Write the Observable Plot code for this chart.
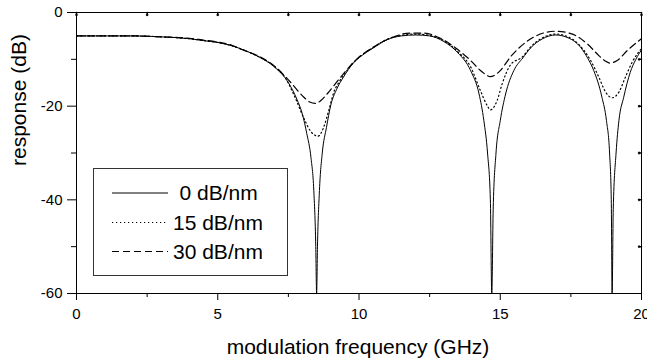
<!DOCTYPE html>
<html><head><meta charset="utf-8">
<script src="https://cdn.jsdelivr.net/npm/d3@7"></script>
<script src="https://cdn.jsdelivr.net/npm/@observablehq/plot@0.6"></script>
<style>
body{margin:0;background:#fff;}
#wrap{width:647px;height:361px;}
</style></head><body><div id="wrap"></div>
<script>
// Tick values
const xMajor = [0, 5, 10, 15, 20];
const xMinor = [2.5, 7.5, 12.5, 17.5];
const yMajor = [0, -20, -40, -60];
const yMinor = [-10, -30, -50];
const seriesNames = ["0 dB/nm", "15 dB/nm", "30 dB/nm"];

// 0 dB/nm
const solidF  = [0,1,2,3,4,4.5,5,5.5,6,6.5,7,7.5,7.8,8.0,8.15,8.3,8.4,8.47,8.5,8.53,8.6,8.7,8.85,9.0,9.2,9.45,9.8,10.1,10.5,11.0,11.5,12.0,12.5,13.0,13.5,13.95,14.25,14.42,14.55,14.65,14.7,14.75,14.85,15.0,15.19,15.48,15.8,16.07,16.5,16.96,17.4,17.84,18.1,18.31,18.6,18.76,18.87,18.93,18.96,19.0,19.1,19.2,19.37,19.6,19.8,20];
const solidDB = [-5,-5,-5,-5.2,-5.6,-6.0,-6.4,-7.1,-8.2,-9.6,-11.6,-15.0,-18.5,-21.8,-25.8,-31,-38,-50,-60,-50,-38,-30,-24.5,-19.8,-16.5,-13.8,-10.8,-9.2,-7.6,-5.8,-5.0,-4.8,-5.0,-6.2,-8.6,-12.4,-17.4,-23.1,-30,-40,-60,-42,-30,-23.1,-17.4,-12.4,-9.7,-7.6,-5.6,-4.8,-5.4,-7.4,-9.8,-12.4,-18.1,-23.1,-30,-40,-60,-42,-30,-23.1,-18.1,-12.8,-10,-8.0];

// 15 dB/nm
const dotF  = [0,1,2,3,4,4.5,5,5.5,6,6.5,7,7.4,7.69,8.05,8.28,8.55,8.75,8.93,9.11,9.3,9.5,9.8,10.1,10.5,11.0,11.5,12.0,12.5,13.0,13.5,13.95,14.3,14.54,14.65,14.89,15.07,15.36,15.8,16.07,16.5,16.96,17.4,17.84,18.2,18.49,18.73,18.96,19.2,19.43,19.67,20];
const dotDB = [-5,-5,-5,-5.2,-5.6,-6.0,-6.4,-7.1,-8.2,-9.6,-11.5,-14.0,-17.5,-22.6,-25.3,-26.4,-24.5,-20.9,-17.0,-14.8,-13.0,-10.7,-9.1,-7.5,-5.7,-4.9,-4.6,-4.9,-6.0,-8.4,-11.6,-16.7,-19.9,-20.8,-18.8,-15.2,-11.2,-9.4,-7.4,-5.4,-4.6,-5.2,-7.2,-10.25,-13.8,-17.0,-18.2,-17.0,-13.8,-10.6,-7.7];

// 30 dB/nm
const dashF  = [0,1,2,3,4,4.5,5,5.5,5.8,6.4,6.98,7.58,8.05,8.25,8.46,8.65,8.87,9.35,9.93,10.5,11.1,11.8,12.3,12.88,13.47,13.95,14.3,14.5,14.65,14.8,15.0,15.36,15.83,16.3,16.96,17.5,18.08,18.49,18.7,18.88,19.14,19.5,20];
const dashDB = [-5,-5,-5,-5.2,-5.5,-5.9,-6.3,-7.0,-7.8,-9.2,-11.3,-14.9,-18.1,-19.1,-19.4,-18.8,-17.4,-13.8,-9.9,-7.4,-5.5,-4.4,-4.4,-5.5,-7.8,-10.25,-12.4,-13.3,-13.7,-13.4,-12.4,-9.5,-6.7,-4.9,-4.0,-4.5,-6.7,-9.2,-10.3,-10.8,-10.25,-8.1,-5.6];

const toRows = (F, D) => F.map((f, i) => ({f, db: D[i]}));
const solid = toRows(solidF, solidDB);
const dotted = toRows(dotF, dotDB);
const dashed = toRows(dashF, dashDB);

const font = '"Liberation Sans", Arial, Helvetica, sans-serif';
const dashes = [null, "1.2,2.8", "7,4"];

const chart = Plot.plot({
  width: 647, height: 361,
  marginLeft: 76, marginRight: 6, marginTop: 12, marginBottom: 68,
  style: {fontFamily: font, background: "#fff", color: "#000", overflow: "visible"},
  x: {domain: [0, 20]},
  y: {domain: [-60, 0]},
  marks: [
    Plot.axisX(xMajor, {tickSize: 7, tickPadding: 8, fontSize: 15, label: null, tickFormat: d => String(d)}),
    Plot.axisX(xMinor, {tickSize: 4, label: null, tickFormat: () => ""}),
    Plot.axisY(yMajor, {tickSize: 9, tickPadding: 5, fontSize: 15, label: null, tickFormat: d => String(d)}),
    Plot.axisY(yMinor, {tickSize: 5, label: null, tickFormat: () => ""}),
    Plot.vector(xMajor.concat(xMinor), {x: d => d, frameAnchor: "top", length: 3, rotate: 180, anchor: "start", stroke: "black"}),
    Plot.vector(yMinor.concat([-20, -40]), {y: d => d, frameAnchor: "right", length: 3, rotate: -90, anchor: "start", stroke: "black"}),
    Plot.line(solid, {x: "f", y: "db", stroke: "black", strokeWidth: 1, curve: "monotone-x"}),
    Plot.line(dotted, {x: "f", y: "db", stroke: "black", strokeWidth: 1.2, strokeDasharray: dashes[1], curve: "monotone-x"}),
    Plot.line(dashed, {x: "f", y: "db", stroke: "black", strokeWidth: 1.2, strokeDasharray: dashes[2], curve: "monotone-x"}),
    Plot.frame({stroke: "black", strokeWidth: 1}),
    Plot.text(["modulation frequency (GHz)"], {text: d => d, frameAnchor: "bottom", dy: 54, dx: -1, fontSize: 21, lineAnchor: "middle"}),
    Plot.text(["response (dB)"], {text: d => d, frameAnchor: "left", dx: -57, dy: 13, rotate: -90, fontSize: 21, lineAnchor: "middle"})
  ]
});

document.getElementById("wrap").appendChild(chart);

// Legend
const svg = d3.select(chart);
const lg = svg.append("g").attr("font-family", font).attr("font-size", 21).attr("text-anchor", "start");
lg.append("rect").attr("x", 93.5).attr("y", 168.5).attr("width", 194).attr("height", 107)
  .attr("fill", "#fff").attr("stroke", "#333").attr("stroke-width", 1);
const rowY = [193, 222.5, 251.5];
const textX = [179.5, 173, 173];
seriesNames.forEach((name, i) => {
  lg.append("line").attr("x1", 112).attr("x2", 168).attr("y1", rowY[i]).attr("y2", rowY[i])
    .attr("stroke", "black").attr("stroke-width", i === 0 ? 1 : 1.2)
    .attr("stroke-dasharray", dashes[i]);
  lg.append("text").attr("x", textX[i]).attr("y", rowY[i]).attr("dy", "0.35em")
    .attr("text-anchor", "start").attr("fill", "black").text(name);
});
</script>
</body></html>
